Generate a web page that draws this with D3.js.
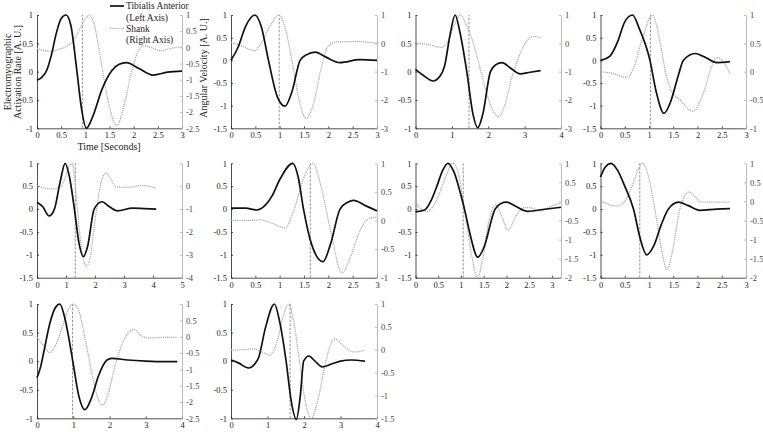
<!DOCTYPE html>
<html><head><meta charset="utf-8">
<script src="https://cdn.jsdelivr.net/npm/d3@7"></script>
<style>
body{margin:0;background:#fff;}
svg text{font-family:"Liberation Serif","Times New Roman",serif;}
</style></head>
<body><svg id="c" width="763" height="432"></svg>
<script>
// ---------------- DATA ----------------
// Tibialis Anterior EMG (left axis), [time s, value]
const emg1 = [[0,-0.15],[0.1,-0.1],[0.2,0.02],[0.3,0.3],[0.4,0.68],[0.5,0.94],[0.6,1.0],[0.7,0.82],[0.82,0.05],[0.92,-0.65],[1.02,-1.0],[1.15,-0.8],[1.35,-0.3],[1.55,0.02],[1.7,0.13],[1.85,0.16],[2.1,0.06],[2.4,-0.06],[2.7,-0.01],[3.0,0.01]];
const emg2 = [[0,0],[0.15,0.3],[0.3,0.75],[0.49,1.0],[0.62,0.75],[0.77,0.0],[0.95,-0.8],[1.11,-1.01],[1.25,-0.7],[1.42,0.0],[1.55,0.12],[1.73,0.18],[1.95,0.07],[2.24,-0.05],[2.65,0.015],[3.0,0.0]];
const emg3 = [[0,0.04],[0.2,-0.06],[0.49,-0.165],[0.65,-0.1],[0.8,0.1],[0.95,0.65],[1.09,1.0],[1.22,0.7],[1.41,0.0],[1.58,-0.75],[1.71,-0.99],[1.85,-0.75],[2.06,0.0],[2.2,0.12],[2.38,0.16],[2.6,0.07],[2.88,-0.04],[3.15,-0.01],[3.44,0.02]];
const emg4 = [[0,0],[0.2,0.1],[0.35,0.4],[0.5,0.85],[0.66,1.0],[0.8,0.7],[1.02,0.0],[1.15,-0.7],[1.31,-1.17],[1.45,-0.9],[1.6,-0.35],[1.71,0.0],[1.95,0.15],[2.15,0.07],[2.4,-0.05],[2.67,-0.03]];
const emg5 = [[0,0.15],[0.2,0.05],[0.41,-0.15],[0.6,0.0],[0.8,0.6],[0.97,1.0],[1.12,0.7],[1.29,0.0],[1.45,-0.75],[1.6,-1.04],[1.75,-0.8],[1.97,0.0],[2.24,0.16],[2.5,0.05],[2.77,-0.04],[3.29,0.02],[3.7,0.01],[4.11,0.0]];
const emg6 = [[0,0.02],[0.3,0.02],[0.53,-0.02],[0.7,0.08],[0.85,0.3],[1.0,0.64],[1.27,1.0],[1.38,0.7],[1.49,0.0],[1.65,-0.75],[1.89,-1.15],[2.05,-0.75],[2.24,0.0],[2.4,0.15],[2.52,0.19],[2.75,0.08],[3.0,-0.04]];
const emg7 = [[0,-0.06],[0.2,-0.02],[0.35,0.2],[0.47,0.5],[0.6,0.85],[0.71,1.0],[0.85,0.8],[1.0,0.3],[1.1,-0.1],[1.2,-0.55],[1.37,-1.05],[1.5,-0.85],[1.75,0.0],[1.88,0.12],[2.0,0.15],[2.2,0.06],[2.47,-0.05],[2.8,-0.01],[3.2,0.04]];
const emg8 = [[0,0.7],[0.1,0.92],[0.22,1.0],[0.35,0.85],[0.5,0.5],[0.68,0.0],[0.82,-0.65],[0.95,-1.0],[1.1,-0.8],[1.25,-0.35],[1.4,0.0],[1.61,0.15],[1.8,0.08],[2.05,-0.03],[2.4,0.0],[2.67,0.01]];
const emg9 = [[0,-0.29],[0.1,-0.1],[0.2,0.2],[0.35,0.65],[0.5,0.93],[0.63,1.0],[0.75,0.8],[0.88,0.4],[1.0,-0.05],[1.15,-0.6],[1.32,-0.85],[1.5,-0.65],[1.7,-0.25],[1.93,0.02],[2.06,0.05],[2.5,0.02],[3.0,0.0],[3.5,-0.01],[3.87,-0.01]];
const emg10 = [[0,0.02],[0.2,-0.03],[0.48,-0.12],[0.65,-0.05],[0.75,0.05],[0.95,0.6],[1.19,1.0],[1.33,0.7],[1.51,0.0],[1.65,-0.7],[1.79,-1.02],[1.9,-0.6],[1.99,0.0],[2.13,0.09],[2.3,0.0],[2.5,-0.1],[2.75,-0.05],[3.0,0.0],[3.3,0.02],[3.67,0.0]];

// Shank angular velocity (right axis), [time s, value]
const shank1 = [[0,-0.03],[0.27,-0.12],[0.45,-0.06],[0.6,0.02],[0.75,0.2],[0.9,0.6],[1.08,1.0],[1.2,0.6],[1.3,-0.2],[1.45,-1.5],[1.65,-2.42],[1.8,-1.8],[1.95,-0.8],[2.1,-0.1],[2.2,0.05],[2.35,0.0],[2.55,-0.1],[2.8,-0.02],[3.0,0.02]];
const shank2 = [[0,0.03],[0.2,-0.08],[0.49,-0.26],[0.65,0.1],[0.8,0.6],[0.99,1.0],[1.12,0.5],[1.25,-0.6],[1.4,-2.0],[1.54,-2.65],[1.7,-2.1],[1.85,-0.9],[2.0,-0.1],[2.18,0.05],[2.6,0.06],[3.0,0.0]];
const shank3 = [[0,0.0],[0.3,-0.03],[0.72,-0.14],[0.9,0.1],[1.05,0.6],[1.24,1.0],[1.38,0.7],[1.5,0.35],[1.7,-0.5],[1.9,-1.5],[2.1,-2.3],[2.29,-2.59],[2.45,-2.2],[2.65,-1.2],[2.9,-0.3],[3.1,0.15],[3.25,0.24],[3.44,0.2]];
const shank4 = [[0,0.0],[0.25,-0.03],[0.54,-0.1],[0.7,0.1],[0.85,0.55],[1.07,1.0],[1.22,0.56],[1.35,-0.05],[1.45,-0.32],[1.64,-0.5],[1.91,-0.7],[2.12,-0.38],[2.3,0.1],[2.41,0.25],[2.53,0.18],[2.67,-0.04]];
const shank5 = [[0,0.03],[0.43,-0.12],[0.75,-0.08],[0.95,0.3],[1.1,0.85],[1.21,1.0],[1.3,0.3],[1.45,-1.8],[1.6,-3.2],[1.71,-3.5],[1.85,-3.0],[2.0,-1.5],[2.2,0.1],[2.37,0.58],[2.55,0.3],[2.72,-0.03],[3.1,-0.05],[3.63,0.03],[4.11,-0.1]];
const shank6 = [[0,0.0],[0.3,0.0],[0.6,0.01],[0.85,-0.05],[1.11,-0.13],[1.3,0.2],[1.5,0.75],[1.68,1.0],[1.85,0.6],[2.04,-0.15],[2.28,-0.91],[2.45,-0.65],[2.66,-0.16],[2.85,0.04],[3.0,0.06]];
const shank7 = [[0,-0.04],[0.25,-0.27],[0.45,0.0],[0.65,0.6],[0.82,1.0],[0.95,0.7],[1.1,-0.4],[1.25,-1.5],[1.36,-2.0],[1.48,-1.5],[1.6,-0.6],[1.77,-0.08],[1.9,-0.4],[2.04,-0.75],[2.2,-0.4],[2.4,-0.16],[2.55,-0.17],[2.73,-0.25],[3.0,-0.12],[3.2,-0.04]];
const shank8 = [[0,0.02],[0.34,-0.12],[0.5,0.0],[0.62,0.3],[0.75,0.75],[0.86,1.0],[0.98,0.7],[1.12,-0.2],[1.25,-1.2],[1.37,-1.79],[1.5,-1.2],[1.62,-0.3],[1.72,0.1],[1.82,0.25],[1.95,0.12],[2.05,-0.01],[2.3,-0.02],[2.67,-0.02]];
const shank9 = [[0,-0.02],[0.2,-0.3],[0.35,-0.49],[0.5,-0.3],[0.7,0.3],[0.85,0.8],[1.0,1.0],[1.15,0.8],[1.35,-0.2],[1.55,-1.3],[1.7,-1.95],[1.81,-2.09],[1.95,-1.8],[2.15,-0.9],[2.4,-0.1],[2.55,0.15],[2.69,0.22],[2.85,0.05],[3.1,-0.04],[3.5,-0.02],[3.87,-0.02]];
const shank10 = [[0,-0.01],[0.3,0.0],[0.61,0.02],[0.85,-0.05],[1.07,-0.12],[1.25,0.15],[1.42,0.7],[1.58,1.0],[1.72,0.6],[1.9,-0.4],[2.05,-1.2],[2.2,-1.5],[2.38,-1.1],[2.6,-0.25],[2.75,0.15],[2.86,0.24],[3.05,0.1],[3.37,-0.05],[3.67,-0.01]];

// dashed marker times
const markerTimes = [0.94, 0.99, 1.47, 1.03, 1.32, 1.63, 1.05, 0.81, 0.98, 1.62];

// tick labels
const xTicks = [
  [0,0.5,1,1.5,2,2.5,3],[0,0.5,1,1.5,2,2.5,3],[0,1,2,3,4],[0,0.5,1,1.5,2,2.5,3],
  [0,1,2,3,4,5],[0,0.5,1,1.5,2,2.5,3],[0,0.5,1,1.5,2,2.5,3],[0,0.5,1,1.5,2,2.5,3],
  [0,1,2,3,4],[0,1,2,3,4]];
const xMax = [3,3,4,3,5,3,3.2,3,4,4];
const leftTicks = [
  [-1,-0.5,0,0.5,1],[-1.5,-1,-0.5,0,0.5,1],[-1,-0.5,0,0.5,1],[-1.5,-1,-0.5,0,0.5,1],
  [-1.5,-1,-0.5,0,0.5,1],[-1.5,-1,-0.5,0,0.5,1],[-1.5,-1,-0.5,0,0.5,1],[-1.5,-1,-0.5,0,0.5,1],
  [-1,-0.5,0,0.5,1],[-1,-0.5,0,0.5,1]];
const rightTicks = [
  [-2.5,-2,-1.5,-1,-0.5,0,0.5,1],[-3,-2,-1,0,1],[-3,-2,-1,0,1],[-1,-0.5,0,0.5,1],
  [-4,-3,-2,-1,0,1],[-1,-0.5,0,0.5,1],[-2,-1.5,-1,-0.5,0,0.5,1],[-2,-1.5,-1,-0.5,0,0.5,1],
  [-2.5,-2,-1.5,-1,-0.5,0,0.5,1],[-1.5,-1,-0.5,0,0.5,1]];

const emgSeries = [emg1,emg2,emg3,emg4,emg5,emg6,emg7,emg8,emg9,emg10];
const shankSeries = [shank1,shank2,shank3,shank4,shank5,shank6,shank7,shank8,shank9,shank10];

const legendLabels = [["Tibialis Anterior","(Left Axis)"],["Shank","(Right Axis)"]];
const yLabelLeft = ["Electromyographic","Activation Rate [A. U.]"];
const yLabelRight = "Angular Velocity [A. U.]";
const xLabel = "Time [Seconds]";

// ---------------- LAYOUT ----------------
const colL = [37, 231, 415.5, 600.5];
const colR = [182, 377, 561, 746];
const rowT = [15, 163.3, 304];
const rowB = [128.3, 277.7, 418.3];

const svg = d3.select("#c");
const fmt = d => String(d);
const line = (x,y) => d3.line().x(d=>x(d[0])).y(d=>y(d[1])).curve(d3.curveMonotoneX);

emgSeries.forEach((emg,i)=>{
  const r = Math.floor(i/4), c = i%4;
  const L = colL[c], R = colR[c], T = rowT[r], B = rowB[r];
  const x = d3.scaleLinear().domain([0,xMax[i]]).range([L,R]);
  const lt = leftTicks[i], rt = rightTicks[i];
  const yL = d3.scaleLinear().domain([lt[0], lt[lt.length-1]]).range([B,T]);
  const yR = d3.scaleLinear().domain([rt[0], rt[rt.length-1]]).range([B,T]);
  const g = svg.append("g");

  const ax = g.append("g").attr("transform",`translate(0,${B})`)
    .call(d3.axisBottom(x).tickValues(xTicks[i]).tickFormat(fmt).tickSizeInner(-2).tickSizeOuter(0).tickPadding(4));
  const ay = g.append("g").attr("transform",`translate(${L},0)`)
    .call(d3.axisLeft(yL).tickValues(lt).tickFormat(fmt).tickSizeInner(-2).tickSizeOuter(0).tickPadding(4));
  const ar = g.append("g").attr("transform",`translate(${R},0)`)
    .call(d3.axisRight(yR).tickValues(rt).tickFormat(fmt).tickSizeInner(-2).tickSizeOuter(0).tickPadding(4));
  [ax,ay,ar].forEach(a=>{
    a.attr("font-family","Liberation Serif");
    a.selectAll("text").attr("font-size","8.5px").attr("fill","#222");
    a.select(".domain").attr("stroke","#222").attr("stroke-width",0.8);
    a.selectAll(".tick line").attr("stroke","#222").attr("stroke-width",0.8);
  });
  ar.select(".domain").attr("stroke","#aaa");
  ar.selectAll(".tick line").attr("stroke","#aaa");
  ar.selectAll("text").attr("fill","#444");

  g.append("line").attr("x1",x(markerTimes[i])).attr("x2",x(markerTimes[i]))
    .attr("y1",B).attr("y2",T).attr("stroke","#777").attr("stroke-width",0.8)
    .attr("stroke-dasharray","2.5,1.5");

  g.append("path").datum(shankSeries[i]).attr("d",line(x,yR))
    .attr("fill","none").attr("stroke","#a8a8a8").attr("stroke-width",1.2)
    .attr("stroke-dasharray","1.2,0.9");
  g.append("path").datum(emg).attr("d",line(x,yL))
    .attr("fill","none").attr("stroke","#111").attr("stroke-width",1.7);
});

const lab = svg.append("g").attr("font-family","Liberation Serif").attr("font-size","10px").attr("fill","#222");
lab.append("text").attr("transform","translate(11,72) rotate(-90)").attr("text-anchor","middle").text(yLabelLeft[0]);
lab.append("text").attr("transform","translate(21,72) rotate(-90)").attr("text-anchor","middle").text(yLabelLeft[1]);
lab.append("text").attr("transform","translate(207,68) rotate(-90)").attr("text-anchor","middle").text(yLabelRight);
lab.append("text").attr("x",109).attr("y",150).attr("text-anchor","middle").text(xLabel);

const lg = svg.append("g").attr("font-family","Liberation Serif").attr("font-size","9.5px").attr("fill","#222");
lg.append("line").attr("x1",110).attr("x2",124).attr("y1",6).attr("y2",6).attr("stroke","#111").attr("stroke-width",1.7);
lg.append("line").attr("x1",110).attr("x2",124).attr("y1",28.5).attr("y2",28.5).attr("stroke","#a8a8a8").attr("stroke-width",1.2).attr("stroke-dasharray","1.2,0.9");
lg.append("text").attr("x",126).attr("y",9).text(legendLabels[0][0]);
lg.append("text").attr("x",126).attr("y",20.5).text(legendLabels[0][1]);
lg.append("text").attr("x",126).attr("y",31.5).text(legendLabels[1][0]);
lg.append("text").attr("x",126).attr("y",43).text(legendLabels[1][1]);
</script></body></html>
